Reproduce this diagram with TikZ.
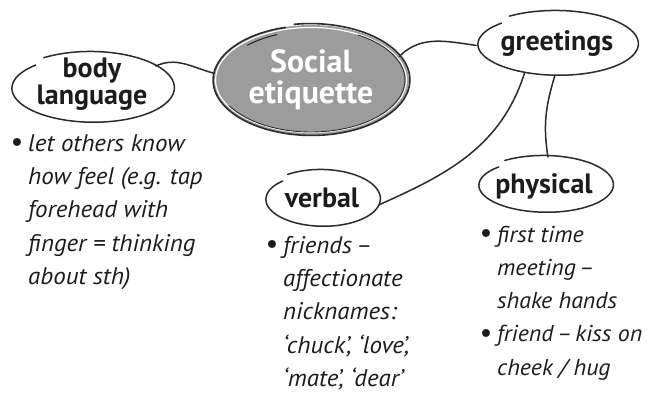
\documentclass[tikz,border=0pt]{standalone}
\usepackage{fontspec}
\setmainfont{PT Sans}
\newfontfamily\itemfont[FakeStretch=1.04]{PT Sans}
\newfontfamily\bulfont{DejaVu Sans}
\usetikzlibrary{shapes.geometric}
\definecolor{ink}{HTML}{1C1C1C}
\definecolor{lin}{HTML}{2B2B2B}
\definecolor{soft}{HTML}{9C9C9C}
\newcommand{\bul}{\makebox[16pt][l]{\kern-3pt\bulfont\upshape\fontsize{27}{27}\selectfont\raisebox{-1.5pt}{•}}}
\newcommand{\ind}{\hspace*{16pt}}
\newcommand{\ds}{\hspace{0.15em}–\hspace{0.15em}}
\newcommand{\skell}[3]{%
  \draw[outl, shift={(#1.center)}] plot[smooth, samples=120, domain=125:-225, variable=\t]
    ({(#2+2-4.5*(125-\t)/350)*cos(\t)}, {-(#3+2-4.5*(125-\t)/350)*sin(\t)});}
\tikzset{
  ell/.style={ellipse, inner sep=0pt, outer sep=0pt},
  outl/.style={line width=1.5pt, draw=lin, line cap=round},
  conn/.style={line width=1.5pt, draw=lin, line cap=round},
  lbl/.style={anchor=base, inner sep=0pt, text=ink, font=\fontsize{28}{26}\selectfont\bfseries},
  item/.style={anchor=base west, inner sep=0pt, text=ink, font=\itemfont\fontsize{24}{33.4}\selectfont\itshape},
}
\begin{document}
\begin{tikzpicture}[x=1pt, y=-1pt]
\useasboundingbox (0,0) rectangle (648,392);
% ellipse nodes (geometry only)
\node[ell, minimum width=196pt, minimum height=110pt] (soc) at (311,80) {};
\node[ell, minimum width=164pt, minimum height=70pt] (bl) at (92,88) {};
\node[ell, minimum width=162pt, minimum height=64pt] (gr) at (557,44) {};
\node[ell, minimum width=116pt, minimum height=56pt] (vb) at (322,199) {};
\node[ell, minimum width=136pt, minimum height=56pt] (ph) at (545,185) {};
% central ellipse
\fill[soft] (soc.center) ellipse[x radius=98, y radius=55];
\draw[white, line width=1.2pt] (soc.center) ellipse[x radius=95.5, y radius=52.5];
\draw[lin, line width=0.9pt, shift={(soc.center)}] plot[smooth, samples=60, domain=60:-150, variable=\t]
  ({94*cos(\t)}, {-52*sin(\t)});
\draw[lin, line width=1.1pt, shift={(soc.center)}] plot[smooth, samples=20, domain=112:135, variable=\t]
  ({90*cos(\t)}, {-49*sin(\t)});
\draw[lin, line width=1.6pt, shift={(soc.center)}] plot[smooth, samples=120, domain=100:-255, variable=\t]
  ({(99.5-2*(100-\t)/355)*cos(\t)}, {-(56.5-2*(100-\t)/355)*sin(\t)});
% other ellipses
\skell{bl}{82}{35}
\skell{gr}{81}{32}
\skell{vb}{58}{28}
\skell{ph}{68}{28}
% labels
\node[inner sep=0pt, anchor=base, text=white, font=\fontsize{32}{30}\selectfont\bfseries] (soct) at (311,72)
  {\begin{tabular}[t]{@{}c@{}}Social\\etiquette\end{tabular}};
\node[lbl] (blt) at (92,77) {\begin{tabular}[t]{@{}c@{}}body\\language\end{tabular}};
\node[lbl] (grt) at (557,50) {greetings};
\node[lbl] (vbt) at (322,207) {verbal};
\node[lbl] (pht) at (544,193) {physical};
% connectors
\draw[conn] (bl.19) to[out=25, in=165] (soc.176);
\draw[conn] (soc.15) to[out=45, in=172] (gr.181);
\draw[conn] (gr.222) to[out=252, in=24] (vb.354);
\draw[conn] (gr.266) to[out=253, in=99] (ph.84);
% bullet texts
\node[item] (blx) at (12,151) {\begin{tabular}[t]{@{}l@{}}
\bul let others know\\
\ind how feel (e.g. tap\\
\ind forehead with\\
\ind finger = thinking\\
\ind about sth)\end{tabular}};
\node[item] (vbx) at (267,253) {\begin{tabular}[t]{@{}l@{}}
\bul friends\hspace{0.18em}–\\
\ind affectionate\\
\ind nicknames:\\
\ind ‘chuck’, ‘love’,\\
\ind ‘mate’, ‘dear’\end{tabular}};
\node[item, font=\itemfont\fontsize{23}{33.3}\selectfont\itshape] (phx) at (481,242) {\begin{tabular}[t]{@{}l@{}}
\bul first time\\
\ind meeting\hspace{0.15em}–\\
\ind shake hands\\
\bul friend\ds kiss on\\
\ind cheek / hug\end{tabular}};
\end{tikzpicture}
\end{document}
